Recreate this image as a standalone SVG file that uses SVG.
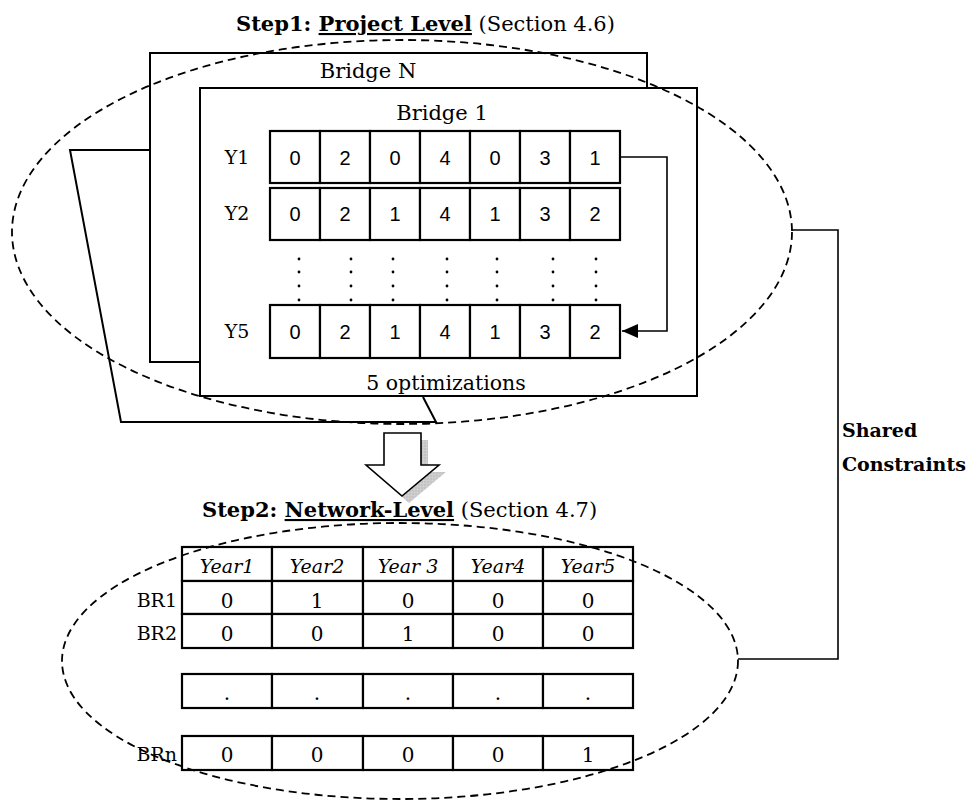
<svg xmlns="http://www.w3.org/2000/svg" width="975" height="801" viewBox="0 0 975 801">
<style>
.ser{font-family:"DejaVu Serif","Liberation Serif",serif;fill:#000}
.san{font-family:"Liberation Sans",Arial,sans-serif;fill:#000;font-size:20px;text-anchor:middle}
.box{fill:#fff;stroke:#000;stroke-width:2}
.cell{fill:#fff;stroke:#000;stroke-width:2.2}
.ln{fill:none;stroke:#000;stroke-width:1.6}
.dash{fill:none;stroke:#000;stroke-width:1.8;stroke-dasharray:8 5}
.lbl{font-size:19px}
.val{font-size:20px;text-anchor:middle}
.hd{font-size:19px;text-anchor:middle;font-style:italic}
</style>
<defs>
<marker id="ah" markerWidth="16" markerHeight="14" refX="16" refY="7" orient="auto" markerUnits="userSpaceOnUse">
<path d="M0,0 L16,7 L0,14 z" fill="#000"/>
</marker>
<pattern id="hatch" width="3" height="3" patternUnits="userSpaceOnUse">
<rect width="3" height="3" fill="#c4c4c4"/>
<path d="M0,0 H3 M0,0 V3" stroke="#e0e0e0" stroke-width="0.6"/>
</pattern>
</defs>

<g id="title1">
<text class="ser" x="236" y="31" font-size="21"><tspan font-weight="bold">Step1: </tspan><tspan font-weight="bold" text-decoration="underline">Project Level</tspan><tspan> (Section 4.6)</tspan></text>
</g>

<g id="bridge-stack">
<polyline class="box" points="150,150 70,150 121,422 436,422 423,397" style="fill:none"/>
<rect class="box" x="150" y="53" width="497" height="309"/>
<text class="ser" x="368" y="78" font-size="21" text-anchor="middle">Bridge N</text>
<rect class="box" x="200" y="88" width="497" height="308"/>
<text class="ser" x="442" y="120" font-size="21" text-anchor="middle">Bridge 1</text>
</g>

<g id="project-table">
<g class="rowY1">
<text class="ser lbl" x="237" y="164" text-anchor="middle">Y1</text>
<rect class="cell" x="270" y="131" width="50" height="52"/>
<rect class="cell" x="320" y="131" width="50" height="52"/>
<rect class="cell" x="370" y="131" width="50" height="52"/>
<rect class="cell" x="420" y="131" width="50" height="52"/>
<rect class="cell" x="470" y="131" width="50" height="52"/>
<rect class="cell" x="520" y="131" width="50" height="52"/>
<rect class="cell" x="570" y="131" width="50" height="52"/>
<text class="san" y="165"><tspan x="295">0</tspan><tspan x="345">2</tspan><tspan x="395">0</tspan><tspan x="445">4</tspan><tspan x="495">0</tspan><tspan x="545">3</tspan><tspan x="595">1</tspan></text>
</g>
<g class="rowY2">
<text class="ser lbl" x="237" y="220" text-anchor="middle">Y2</text>
<rect class="cell" x="270" y="188" width="50" height="52"/>
<rect class="cell" x="320" y="188" width="50" height="52"/>
<rect class="cell" x="370" y="188" width="50" height="52"/>
<rect class="cell" x="420" y="188" width="50" height="52"/>
<rect class="cell" x="470" y="188" width="50" height="52"/>
<rect class="cell" x="520" y="188" width="50" height="52"/>
<rect class="cell" x="570" y="188" width="50" height="52"/>
<text class="san" y="221"><tspan x="295">0</tspan><tspan x="345">2</tspan><tspan x="395">1</tspan><tspan x="445">4</tspan><tspan x="495">1</tspan><tspan x="545">3</tspan><tspan x="595">2</tspan></text>
</g>
<g class="dots" fill="#000">
<circle cx="299" cy="259" r="1.4"/><circle cx="299" cy="272" r="1.4"/><circle cx="299" cy="286" r="1.4"/><circle cx="299" cy="300" r="1.4"/>
<circle cx="351" cy="259" r="1.4"/><circle cx="351" cy="272" r="1.4"/><circle cx="351" cy="286" r="1.4"/><circle cx="351" cy="300" r="1.4"/>
<circle cx="393" cy="259" r="1.4"/><circle cx="393" cy="272" r="1.4"/><circle cx="393" cy="286" r="1.4"/><circle cx="393" cy="300" r="1.4"/>
<circle cx="447" cy="259" r="1.4"/><circle cx="447" cy="272" r="1.4"/><circle cx="447" cy="286" r="1.4"/><circle cx="447" cy="300" r="1.4"/>
<circle cx="497" cy="259" r="1.4"/><circle cx="497" cy="272" r="1.4"/><circle cx="497" cy="286" r="1.4"/><circle cx="497" cy="300" r="1.4"/>
<circle cx="553" cy="259" r="1.4"/><circle cx="553" cy="272" r="1.4"/><circle cx="553" cy="286" r="1.4"/><circle cx="553" cy="300" r="1.4"/>
<circle cx="596" cy="259" r="1.4"/><circle cx="596" cy="272" r="1.4"/><circle cx="596" cy="286" r="1.4"/><circle cx="596" cy="300" r="1.4"/>
</g>
<g class="rowY5">
<text class="ser lbl" x="237" y="338" text-anchor="middle">Y5</text>
<rect class="cell" x="270" y="305" width="50" height="53"/>
<rect class="cell" x="320" y="305" width="50" height="53"/>
<rect class="cell" x="370" y="305" width="50" height="53"/>
<rect class="cell" x="420" y="305" width="50" height="53"/>
<rect class="cell" x="470" y="305" width="50" height="53"/>
<rect class="cell" x="520" y="305" width="50" height="53"/>
<rect class="cell" x="570" y="305" width="50" height="53"/>
<text class="san" y="339"><tspan x="295">0</tspan><tspan x="345">2</tspan><tspan x="395">1</tspan><tspan x="445">4</tspan><tspan x="495">1</tspan><tspan x="545">3</tspan><tspan x="595">2</tspan></text>
</g>
<text class="ser" x="446" y="390" font-size="20.5" text-anchor="middle">5 optimizations</text>
</g>

<g id="ellipse1">
<ellipse class="dash" cx="402" cy="232" rx="390" ry="192"/>
</g>

<g id="down-arrow">
<polygon points="391,440 428,440 428,472 446,472 409,503 373,472 391,472" fill="url(#hatch)"/>
<polygon points="384,433 421,433 421,465 439,465 402,496 366,465 384,465" fill="#fff" stroke="#000" stroke-width="1.6"/>
</g>

<g id="title2">
<text class="ser" x="202" y="517" font-size="21"><tspan font-weight="bold">Step2: </tspan><tspan font-weight="bold" text-decoration="underline">Network-Level</tspan><tspan> (Section 4.7)</tspan></text>
</g>

<g id="network-table">
<g class="header">
<rect class="cell" x="182" y="547" width="90" height="34"/>
<rect class="cell" x="272" y="547" width="91" height="34"/>
<rect class="cell" x="363" y="547" width="90" height="34"/>
<rect class="cell" x="453" y="547" width="90" height="34"/>
<rect class="cell" x="543" y="547" width="90" height="34"/>
<text class="ser hd" y="573"><tspan x="227">Year1</tspan><tspan x="317">Year2</tspan><tspan x="408">Year 3</tspan><tspan x="498">Year4</tspan><tspan x="588">Year5</tspan></text>
</g>
<g class="rowBR1">
<text class="ser lbl" x="177" y="607" text-anchor="end">BR1</text>
<rect class="cell" x="182" y="581" width="90" height="33"/>
<rect class="cell" x="272" y="581" width="91" height="33"/>
<rect class="cell" x="363" y="581" width="90" height="33"/>
<rect class="cell" x="453" y="581" width="90" height="33"/>
<rect class="cell" x="543" y="581" width="90" height="33"/>
<text class="ser val" y="608"><tspan x="227">0</tspan><tspan x="317">1</tspan><tspan x="408">0</tspan><tspan x="498">0</tspan><tspan x="588">0</tspan></text>
</g>
<g class="rowBR2">
<text class="ser lbl" x="177" y="640" text-anchor="end">BR2</text>
<rect class="cell" x="182" y="614" width="90" height="34"/>
<rect class="cell" x="272" y="614" width="91" height="34"/>
<rect class="cell" x="363" y="614" width="90" height="34"/>
<rect class="cell" x="453" y="614" width="90" height="34"/>
<rect class="cell" x="543" y="614" width="90" height="34"/>
<text class="ser val" y="641"><tspan x="227">0</tspan><tspan x="317">0</tspan><tspan x="408">1</tspan><tspan x="498">0</tspan><tspan x="588">0</tspan></text>
</g>
<g class="rowDots">
<rect class="cell" x="182" y="674" width="90" height="34"/>
<rect class="cell" x="272" y="674" width="91" height="34"/>
<rect class="cell" x="363" y="674" width="90" height="34"/>
<rect class="cell" x="453" y="674" width="90" height="34"/>
<rect class="cell" x="543" y="674" width="90" height="34"/>
<text class="ser val" y="700"><tspan x="227">.</tspan><tspan x="317">.</tspan><tspan x="408">.</tspan><tspan x="498">.</tspan><tspan x="588">.</tspan></text>
</g>
<g class="rowBRn">
<text class="ser lbl" x="177" y="761" text-anchor="end">BRn</text>
<rect class="cell" x="182" y="736" width="90" height="34"/>
<rect class="cell" x="272" y="736" width="91" height="34"/>
<rect class="cell" x="363" y="736" width="90" height="34"/>
<rect class="cell" x="453" y="736" width="90" height="34"/>
<rect class="cell" x="543" y="736" width="90" height="34"/>
<text class="ser val" y="762"><tspan x="227">0</tspan><tspan x="317">0</tspan><tspan x="408">0</tspan><tspan x="498">0</tspan><tspan x="588">1</tspan></text>
</g>
</g>

<g id="ellipse2">
<ellipse class="dash" cx="400" cy="661" rx="338" ry="138"/>
</g>

<g id="connectors">
<polyline class="ln" points="620,157 667,157 667,331 622,331" marker-end="url(#ah)"/>
<polyline class="ln" points="792,230 838,230 838,659 738,659"/>
</g>

<g id="shared-label">
<text class="ser" font-size="19" font-weight="bold"><tspan x="842" y="437">Shared</tspan><tspan x="842" y="471">Constraints</tspan></text>
</g>
</svg>
